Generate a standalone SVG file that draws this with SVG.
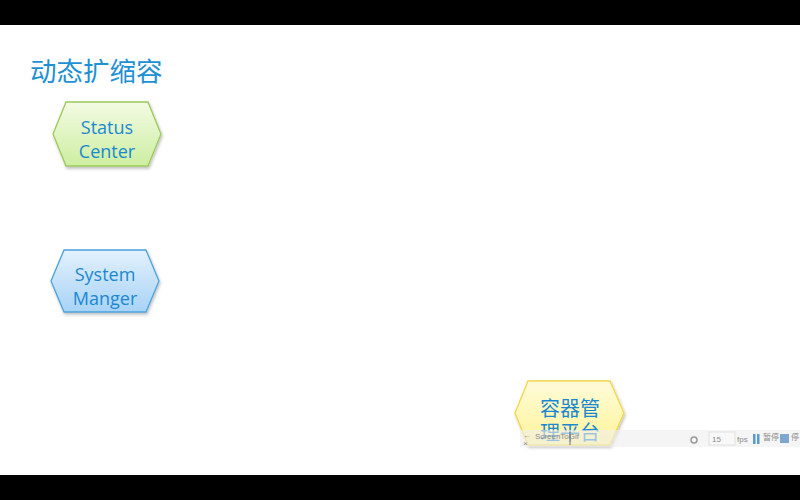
<svg xmlns="http://www.w3.org/2000/svg" width="800" height="500" viewBox="0 0 800 500">
<defs>
<linearGradient id="gGreen" x1="0" y1="0" x2="0" y2="1"><stop offset="0" stop-color="#f3fbe4"/><stop offset="1" stop-color="#cdeea0"/></linearGradient>
<linearGradient id="gBlue" x1="0" y1="0" x2="0" y2="1"><stop offset="0" stop-color="#e3f1fc"/><stop offset="1" stop-color="#a7d3f7"/></linearGradient>
<linearGradient id="gYellow" x1="0" y1="0" x2="0" y2="1"><stop offset="0" stop-color="#fffbd9"/><stop offset="1" stop-color="#fff49a"/></linearGradient>
<filter id="sh" x="-10%" y="-10%" width="130%" height="140%"><feDropShadow dx="1" dy="2" stdDeviation="1.5" flood-color="#000" flood-opacity="0.25"/></filter>
</defs>
<style>
.lbl{font-family:"Open Sans","Liberation Sans","Noto Sans CJK SC",sans-serif;font-size:18px;fill:#1a88d0;text-anchor:middle}
.cjk{font-family:"Noto Sans CJK SC",sans-serif;font-size:20px;fill:#1a88d0;text-anchor:middle}
.tb{font-family:"Liberation Sans","Noto Sans CJK SC",sans-serif;font-size:8px;fill:#8a8a8a}
</style>
<rect x="0" y="0" width="800" height="500" fill="#ffffff"/>
<rect x="0" y="0" width="800" height="25" fill="#000000"/>
<rect x="0" y="475" width="800" height="25" fill="#000000"/>
<text x="30" y="81" font-family="Noto Sans CJK SC,sans-serif" font-size="26.5" fill="#1e90d4">动态扩缩容</text>
<g id="status-center">
<polygon points="66,102 148,102 161,134 148,166 66,166 53,134" fill="url(#gGreen)" stroke="#9cc95a" stroke-width="1.3" filter="url(#sh)"/>
<text class="lbl" x="107" y="134">Status</text>
<text class="lbl" x="107" y="158">Center</text>
</g>
<g id="system-manager">
<polygon points="64,250 146,250 159,281 146,312 64,312 51,281" fill="url(#gBlue)" stroke="#4aa3dc" stroke-width="1.3" filter="url(#sh)"/>
<text class="lbl" x="105" y="281">System</text>
<text class="lbl" x="105" y="305">Manger</text>
</g>
<g id="container-platform">
<polygon points="528,381 610,381 624,413 610,445 528,445 515,413" fill="url(#gYellow)" stroke="#f2d64a" stroke-width="1.3" filter="url(#sh)"/>
<text class="cjk" x="570" y="416">容器管</text>
<text class="cjk" x="570" y="440">理平台</text>
</g>
<g id="connectors"></g>
<g id="toolbar">
<rect x="520" y="430" width="280" height="17" fill="#eeeeee" fill-opacity="0.6"/>
<text class="tb" x="523" y="438" font-size="7">←</text>
<text class="tb" x="523" y="446" font-size="7">×</text>
<text class="tb" x="535" y="439" fill="#a8b890">ScreenToGif</text>
<line x1="570" y1="432" x2="570" y2="445" stroke="#555" stroke-width="0.8"/>
<circle cx="694" cy="440" r="3" fill="none" stroke="#999" stroke-width="1.5"/>
<rect x="709" y="432" width="26" height="13" fill="#f8f8f8" stroke="#dddddd" stroke-width="0.8"/>
<text class="tb" x="712" y="442">15</text>
<text class="tb" x="737" y="442">fps</text>
<rect x="753" y="434" width="2.5" height="10" fill="#5b9bd5"/>
<rect x="757" y="434" width="2.5" height="10" fill="#5b9bd5"/>
<text class="tb" x="763" y="440">暂停</text>
<rect x="780" y="434" width="9" height="9" fill="#7ea7d0"/>
<text class="tb" x="791" y="440">停</text>
</g>
</svg>
